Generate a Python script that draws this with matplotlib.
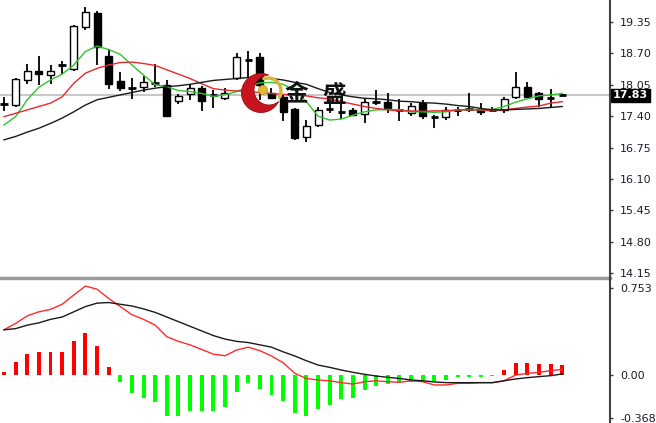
import numpy as np
import matplotlib
matplotlib.use('Agg')
import matplotlib.pyplot as plt
import matplotlib.transforms as mtransforms
from matplotlib.patches import Polygon, Circle
from matplotlib.lines import Line2D

# velas (preco)
opens = [17.65, 17.63, 18.15, 18.34, 18.25, 18.45, 18.38, 19.24, 19.54, 18.65,
         18.13, 17.98, 18.01, 18.09, 18.05, 17.72, 17.86, 17.99, 17.84, 17.77,
         18.20, 18.56, 18.63, 17.88, 17.80, 17.54, 16.96, 17.22, 17.54, 17.49,
         17.53, 17.44, 17.70, 17.70, 17.53, 17.46, 17.67, 17.39, 17.38, 17.53,
         17.54, 17.54, 17.53, 17.53, 17.79, 18.01, 17.87, 17.78, 17.84]
highs = [17.80, 18.20, 18.49, 18.65, 18.45, 18.54, 19.29, 19.65, 19.58, 18.79,
         18.32, 18.18, 18.24, 18.47, 18.15, 17.86, 18.06, 18.03, 17.94, 17.98,
         18.70, 18.74, 18.71, 17.98, 17.85, 17.56, 17.32, 17.60, 17.80, 17.70,
         17.57, 17.75, 17.94, 17.87, 17.75, 17.67, 17.74, 17.42, 17.60, 17.60,
         17.87, 17.67, 17.58, 17.80, 18.32, 18.11, 17.89, 17.96, 17.87]
lows = [17.51, 17.60, 18.07, 18.05, 18.07, 18.27, 18.34, 19.18, 18.46, 17.96,
        17.92, 17.76, 17.89, 18.00, 17.39, 17.65, 17.74, 17.51, 17.56, 17.74,
        18.15, 18.22, 17.74, 17.76, 17.29, 16.91, 16.86, 17.18, 17.46, 17.34,
        17.40, 17.25, 17.63, 17.46, 17.29, 17.40, 17.34, 17.15, 17.32, 17.40,
        17.49, 17.42, 17.48, 17.47, 17.76, 17.77, 17.60, 17.56, 17.82]
closes = [17.66, 18.17, 18.34, 18.27, 18.34, 18.46, 19.27, 19.56, 18.84, 18.07,
          17.99, 17.98, 18.10, 18.09, 17.40, 17.82, 17.99, 17.72, 17.84, 17.87,
          18.62, 18.56, 18.05, 17.78, 17.49, 16.94, 17.20, 17.53, 17.54, 17.49,
          17.42, 17.70, 17.70, 17.56, 17.53, 17.61, 17.40, 17.37, 17.53, 17.53,
          17.54, 17.48, 17.53, 17.75, 18.01, 17.80, 17.75, 17.78, 17.83]

# medias moveis
ma5 = [17.22, 17.39, 17.74, 18.00, 18.15, 18.27, 18.46, 18.74, 18.85, 18.78,
       18.68, 18.46, 18.25, 18.05, 18.01, 17.93, 17.91, 17.87, 17.81, 17.84,
       17.91, 18.01, 18.09, 18.10, 18.06, 17.94, 17.70, 17.40, 17.32, 17.34,
       17.42, 17.49, 17.53, 17.54, 17.53, 17.49, 17.49, 17.48, 17.49, 17.53,
       17.54, 17.53, 17.54, 17.60, 17.69, 17.76, 17.82, 17.84, 17.87]
ma10 = [17.39, 17.46, 17.53, 17.60, 17.67, 17.80, 18.08, 18.29, 18.39, 18.46,
        18.51, 18.52, 18.49, 18.45, 18.36, 18.27, 18.18, 18.07, 17.97, 17.94,
        17.92, 17.91, 17.89, 17.87, 17.85, 17.84, 17.82, 17.78, 17.76, 17.70,
        17.65, 17.60, 17.56, 17.53, 17.51, 17.51, 17.50, 17.51, 17.51, 17.53,
        17.53, 17.53, 17.51, 17.53, 17.56, 17.59, 17.61, 17.67, 17.70]
ma20 = [16.91, 16.98, 17.07, 17.15, 17.25, 17.36, 17.49, 17.63, 17.74, 17.79,
        17.84, 17.89, 17.94, 17.98, 18.01, 18.03, 18.06, 18.10, 18.14, 18.16,
        18.18, 18.20, 18.20, 18.18, 18.15, 18.10, 18.06, 17.97, 17.89, 17.84,
        17.80, 17.77, 17.76, 17.74, 17.71, 17.70, 17.68, 17.67, 17.65, 17.62,
        17.60, 17.56, 17.53, 17.53, 17.54, 17.55, 17.56, 17.58, 17.60]

# macd
hist = [0.03, 0.115, 0.18, 0.195, 0.20, 0.20, 0.29, 0.365, 0.25, 0.07,
        -0.058, -0.158, -0.195, -0.23, -0.35, -0.35, -0.31, -0.31, -0.31, -0.28,
        -0.15, -0.07, -0.12, -0.17, -0.22, -0.33, -0.35, -0.29, -0.26, -0.21,
        -0.195, -0.13, -0.092, -0.078, -0.063, -0.057, -0.057, -0.057, -0.043, -0.02,
        -0.015, -0.015, -0.012, 0.043, 0.106, 0.106, 0.095, 0.095, 0.086]
dif = [0.39, 0.445, 0.51, 0.545, 0.566, 0.61, 0.69, 0.767, 0.74, 0.66,
       0.59, 0.52, 0.48, 0.43, 0.33, 0.29, 0.26, 0.22, 0.18, 0.166,
       0.215, 0.24, 0.21, 0.164, 0.106, 0.015, -0.03, -0.043, -0.05, -0.066,
       -0.078, -0.058, -0.05, -0.058, -0.063, -0.05, -0.058, -0.086, -0.086, -0.072,
       -0.072, -0.066, -0.066, -0.05, 0.0, 0.014, 0.023, 0.037, 0.049]
dea = [0.39, 0.40, 0.43, 0.45, 0.48, 0.50, 0.545, 0.59, 0.62, 0.625,
       0.61, 0.595, 0.57, 0.54, 0.50, 0.46, 0.42, 0.38, 0.34, 0.31,
       0.29, 0.28, 0.26, 0.24, 0.20, 0.164, 0.123, 0.086, 0.066, 0.043,
       0.023, 0.006, -0.009, -0.02, -0.03, -0.043, -0.05, -0.06, -0.066, -0.066,
       -0.066, -0.066, -0.066, -0.05, -0.034, -0.023, -0.014, -0.006, 0.009]

price_ticks = [19.35, 18.70, 18.05, 17.40, 16.75, 16.10, 15.45, 14.80, 14.15]
macd_ticks = [0.753, 0.0, -0.368]
macd_labels = ['0.753', '0.00', '-0.368']

W, H = 656, 423
AX_R = 609

fig = plt.figure(figsize=(W / 100, H / 100), dpi=100)
fig.patch.set_facecolor('white')

ax_p = fig.add_axes([0, 1 - 276 / H, AX_R / W, 276 / H])
ax_m = fig.add_axes([0, 0, AX_R / W, 1 - 279 / H])

x = np.arange(len(closes))

# linha preco atual
ax_p.axhline(closes[-1], color='#c8c8c8', lw=1.5, zorder=1)

# velas
for i in x:
    o, h, l, c = opens[i], highs[i], lows[i], closes[i]
    ax_p.vlines(i, l, h, color='black', lw=1.3, zorder=3)
    if abs(c - o) < 0.025:
        ax_p.hlines((o + c) / 2, i - 0.32, i + 0.32, color='black', lw=2, zorder=4)
    else:
        ax_p.bar(i, abs(c - o), bottom=min(o, c), width=0.6,
                 color='white' if c > o else 'black', edgecolor='black',
                 lw=1, zorder=4)

ax_p.plot(x, ma5, color='#2ec42e', lw=1, zorder=5)
ax_p.plot(x, ma10, color='#e8282d', lw=1, zorder=5)
ax_p.plot(x, ma20, color='#1a1a1a', lw=1, zorder=5)

ax_p.set_xlim(-0.344, 52.02)
ax_p.set_ylim(14.091, 19.805)

# macd
cores = ['#ff0000' if v > 0 else '#00ff00' for v in hist]
ax_m.bar(x, hist, width=0.34, color=cores, zorder=2)
ax_m.plot(x, dif, color='#ff2a2a', lw=1, zorder=3)
ax_m.plot(x, dea, color='#1a1a1a', lw=1, zorder=3)
ax_m.set_xlim(-0.344, 52.02)
ax_m.set_ylim(-0.414, 0.828)

for ax in (ax_p, ax_m):
    for s in ax.spines.values():
        s.set_visible(False)
    ax.set_xticks([])
    ax.yaxis.tick_right()
    ax.tick_params(axis='y', length=3, width=1, pad=5, labelsize=8,
                   colors='#3a3a3a', labelcolor='#1c1c2a')
    ax.set_facecolor('white')

ax_p.set_yticks(price_ticks)
ax_p.set_yticklabels(['%.2f' % v for v in price_ticks])
ax_m.set_yticks(macd_ticks)
ax_m.set_yticklabels(macd_labels)

# label preco atual
trans = mtransforms.blended_transform_factory(ax_p.transAxes, ax_p.transData)
ax_p.text(1 + 4 / AX_R, closes[-1], '%.2f' % closes[-1], transform=trans,
          ha='left', va='center', color='white', fontsize=8, fontweight='bold',
          bbox=dict(boxstyle='square,pad=0.15', fc='black', ec='black'), zorder=10)

# separadores
fig.add_artist(Line2D([0, (AX_R + 1) / W], [1 - 277.5 / H] * 2, color='#9a9a9a',
                      lw=2.5, transform=fig.transFigure))
fig.add_artist(Line2D([(AX_R + 0.5) / W] * 2, [0, 1], color='#404040',
                      lw=1.5, transform=fig.transFigure))

# logo
ax_o = fig.add_axes([0, 0, 1, 1])
ax_o.set_xlim(0, W)
ax_o.set_ylim(H, 0)
ax_o.axis('off')
ax_o.patch.set_alpha(0)

c1, r1 = np.array([261.0, 93.0]), 19.5
c2, r2 = np.array([269.0, 90.0]), 15.0
d = np.linalg.norm(c2 - c1)
a = (r1 ** 2 - r2 ** 2 + d ** 2) / (2 * d)
hh = np.sqrt(r1 ** 2 - a ** 2)
u = (c2 - c1) / d
perp = np.array([-u[1], u[0]])
pa = c1 + a * u + hh * perp
pb = c1 + a * u - hh * perp
t1a = np.arctan2(*(pa - c1)[::-1])
t1b = np.arctan2(*(pb - c1)[::-1])
if t1b < t1a:
    t1a, t1b, pa, pb = t1b, t1a, pb, pa
t_out = np.linspace(t1b, t1a + 2 * np.pi, 80)
outer = np.c_[c1[0] + r1 * np.cos(t_out), c1[1] + r1 * np.sin(t_out)]
t2a = np.arctan2(*(pa - c2)[::-1])
t2b = np.arctan2(*(pb - c2)[::-1])
t_in = np.linspace(t2a + 2 * np.pi, t2b, 80)
inner = np.c_[c2[0] + r2 * np.cos(t_in), c2[1] + r2 * np.sin(t_in)]
ax_o.add_patch(Polygon(np.vstack([outer, inner]), closed=True, fc='#c8141e',
                       ec='#9a0c12', lw=0.6))

t_g = np.linspace(-1.9, 0.5, 40)
ax_o.plot(c2[0] - 1 + 13 * np.cos(t_g), c2[1] + 1 + 13 * np.sin(t_g),
          color='#d8b43a', lw=2.5, solid_capstyle='round')
ax_o.add_patch(Circle((263, 90), 4.6, fc='#e2b935', ec='#b8902a', lw=0.5))

cjk = ['Noto Sans CJK SC', 'DejaVu Sans']
ax_o.text(296, 93, '金', fontsize=17, family=cjk, fontweight='bold',
          ha='center', va='center', color='#111111', zorder=10)
ax_o.text(334, 95, '盛', fontsize=17, family=cjk, fontweight='bold',
          ha='center', va='center', color='#111111', zorder=10)

fig.savefig('out.png', dpi=100, facecolor='white')
